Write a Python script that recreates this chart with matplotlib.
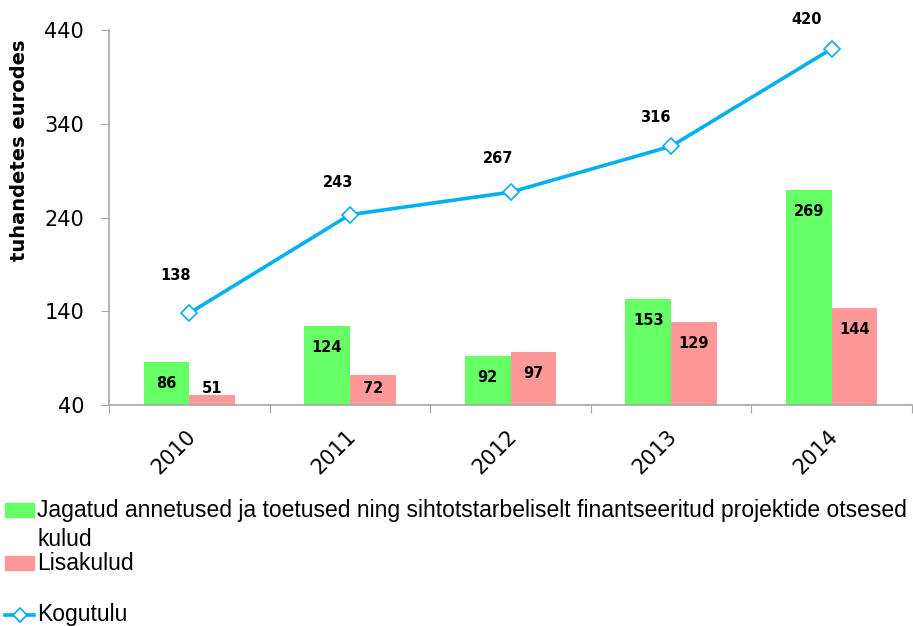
import numpy as np
import matplotlib
matplotlib.use('Agg')
import matplotlib.pyplot as plt
import matplotlib.transforms as mtransforms
from matplotlib.patches import Rectangle
from matplotlib.lines import Line2D

#dados
anos = ['2010', '2011', '2012', '2013', '2014']
annetused = [86, 124, 92, 153, 269]
lisakulud = [51, 72, 97, 129, 144]
kogutulu = [138, 243, 267, 316, 420]

nimi_annetused = 'Jagatud annetused ja toetused ning sihtotstarbeliselt finantseeritud projektide otsesed'
nimi_annetused_2 = 'kulud'
nimi_lisakulud = 'Lisakulud'
nimi_kogutulu = 'Kogutulu'

roheline = '#66FF66'
roosa = '#FF9999'
sinine = '#00B0F0'
hall = '#A6A6A6'

fig = plt.figure(figsize=(9.13, 6.26), dpi=100)
ax = fig.add_axes([109/913, 1 - 405/626, 803/913, 375/626])

x = np.arange(len(anos))
w = 0.285
ymin = 40

ax.bar(x - w/2, np.array(annetused) - ymin, w, bottom=ymin, color=roheline, zorder=2)
ax.bar(x + w/2, np.array(lisakulud) - ymin, w, bottom=ymin, color=roosa, zorder=2)
ax.plot(x, kogutulu, color=sinine, lw=2.6, marker='D', ms=8, mfc='white',
        mec=sinine, mew=1.2, zorder=3)

#rótulos das barras (perto do topo, mas nunca abaixo do eixo)
for xi, v in zip(x - w/2, annetused):
    ax.text(xi, max(v - 23, 58), str(v), ha='center', va='center',
            fontsize=10.5, fontweight='bold')
for xi, v in zip(x + w/2, lisakulud):
    ax.text(xi, max(v - 23, 58), str(v), ha='center', va='center',
            fontsize=10.5, fontweight='bold')

#rótulos da linha (deslocamento em pixels -> pontos)
desloc = [(-14, 38), (-12, 32), (-12, 34), (-16, 29), (-25, 29)]
for xi, v, d in zip(x, kogutulu, desloc):
    ax.annotate(str(v), (xi, v), xytext=(d[0]*0.72, d[1]*0.72),
                textcoords='offset points', ha='center', va='center',
                fontsize=10.5, fontweight='bold')

ax.set_xlim(-0.5, 4.5)
ax.set_ylim(40, 440)
ax.set_yticks([40, 140, 240, 340, 440])
ax.tick_params(axis='y', labelsize=15, length=6, color=hall, pad=12)

ax.set_xticks(np.arange(-0.5, 5, 1))
ax.set_xticklabels([])
ax.set_xticks(x, minor=True)
ax.set_xticklabels(anos, minor=True, rotation=45, ha='right',
                   rotation_mode='anchor', fontsize=15)
ax.tick_params(axis='x', which='major', length=6, color=hall)
ax.tick_params(axis='x', which='minor', length=0, pad=15)
#empurra um pouco os anos para a esquerda
desl = mtransforms.ScaledTranslation(-4/100, 0, fig.dpi_scale_trans)
for t in ax.get_xticklabels(minor=True):
    t.set_transform(t.get_transform() + desl)

for s in ['top', 'right']:
    ax.spines[s].set_visible(False)
for s in ['left', 'bottom']:
    ax.spines[s].set_color(hall)
    ax.spines[s].set_linewidth(1.2)

fig.text(20/913, 1 - 150/626, 'tuhandetes eurodes', rotation=90,
         ha='center', va='center', fontsize=14, fontweight='bold')

#legenda feita à mão
fonte_leg = ['Liberation Sans', 'DejaVu Sans']
fig.add_artist(Rectangle((5/913, 1 - 517/626), 29/913, 14/626,
                         transform=fig.transFigure, color=roheline))
fig.add_artist(Rectangle((5/913, 1 - 570/626), 29/913, 14/626,
                         transform=fig.transFigure, color=roosa))
fig.add_artist(Line2D([5/913, 34/913], [1 - 615/626, 1 - 615/626],
                      transform=fig.transFigure, color=sinine, lw=2.6))
fig.add_artist(Line2D([19.5/913], [1 - 615/626], transform=fig.transFigure,
                      marker='D', ms=7, mfc='white', mec=sinine, mew=1.2))
fig.text(37/913, 1 - 510/626, nimi_annetused, ha='left', va='center',
         fontsize=16.5, family=fonte_leg)
fig.text(37/913, 1 - 540/626, nimi_annetused_2, ha='left', va='center',
         fontsize=16.5, family=fonte_leg)
fig.text(37/913, 1 - 563/626, nimi_lisakulud, ha='left', va='center',
         fontsize=16.5, family=fonte_leg)
fig.text(37/913, 1 - 615/626, nimi_kogutulu, ha='left', va='center',
         fontsize=16.5, family=fonte_leg)

fig.savefig('out.png', dpi=100)
